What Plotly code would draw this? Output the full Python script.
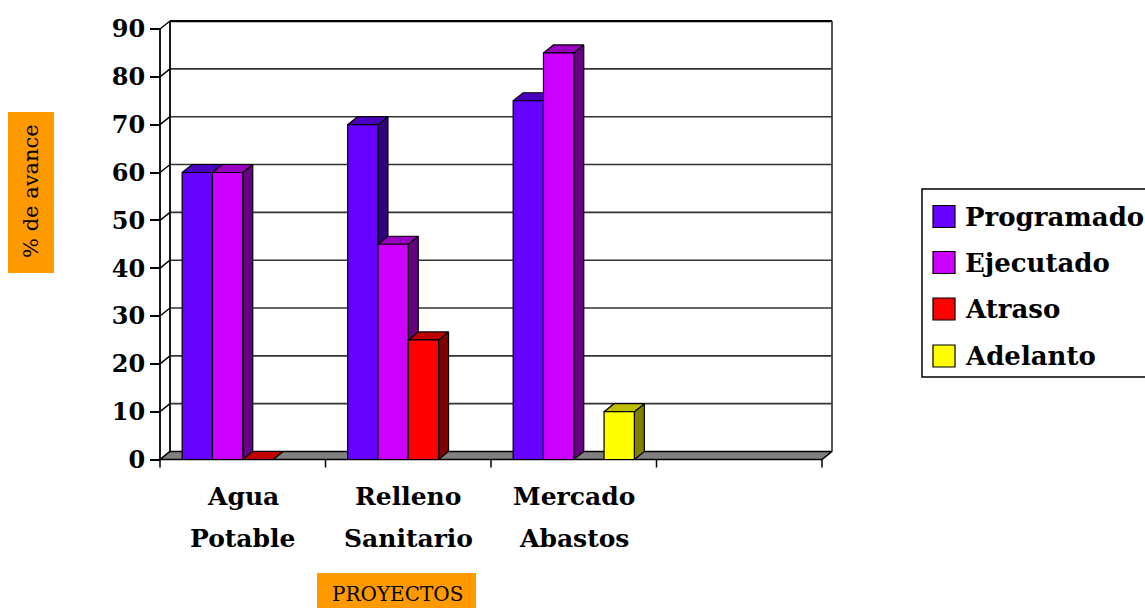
import plotly.graph_objects as go

# ---- data -------------------------------------------------------------
categories = ["Agua Potable", "Relleno Sanitario", "Mercado Abastos", ""]
category_lines = [["Agua", "Potable"], ["Relleno", "Sanitario"], ["Mercado", "Abastos"], ["", ""]]
series_names = ["Programado", "Ejecutado", "Atraso", "Adelanto"]
programado = [60, 70, 75, None]
ejecutado = [60, 45, 85, None]
atraso = [0, 25, None, None]
adelanto = [None, None, 10, None]
y_ticks = [0, 10, 20, 30, 40, 50, 60, 70, 80, 90]
y_title = "% de avance"
x_title = "PROYECTOS"

series_values = [programado, ejecutado, atraso, adelanto]

# face colours per series: (front, top, side)
series_colors = [
    ("#6600FF", "#4C00BF", "#330080"),
    ("#CC00FF", "#9900BF", "#660080"),
    ("#FF0000", "#BF0000", "#800000"),
    ("#FFFF00", "#BFBF00", "#808000"),
]

# ---- geometry ---------------------------------------------------------
W, H = 1145, 608
PLOT_L, PLOT_R, PLOT_T, PLOT_B = 130, 850, 10, 476
ORIGIN_X, ORIGIN_Y = 160.0, 459.5      # pixel of (category 0, value 0) on the front plane
PX_PER_CAT = 165.5
PX_PER_UNIT = 4.783

x_range = [(PLOT_L - ORIGIN_X) / PX_PER_CAT, (PLOT_R - ORIGIN_X) / PX_PER_CAT]
y_range = [(ORIGIN_Y - PLOT_B) / PX_PER_UNIT, (ORIGIN_Y - PLOT_T) / PX_PER_UNIT]

DX = 10 / PX_PER_CAT        # depth offset (x) of the 3D box
DY = 8 / PX_PER_UNIT        # depth offset (y) of the 3D box
N_CAT = len(categories)
N_SER = len(series_names)
BAR_W = 30.3 / PX_PER_CAT
GROUP_OFF = (1 - N_SER * BAR_W) / 2
Y_MAX = y_ticks[-1]


def paper_x(px):
    return (px - PLOT_L) / (PLOT_R - PLOT_L)


def paper_y(py):
    return (PLOT_B - py) / (PLOT_B - PLOT_T)


fig = go.Figure()


def poly(xs, ys, fill, lw=1.2, lc="black"):
    fig.add_trace(go.Scatter(
        x=list(xs) + [xs[0]], y=list(ys) + [ys[0]], mode="lines",
        fill="toself", fillcolor=fill, line=dict(color=lc, width=lw),
        hoverinfo="skip", showlegend=False))


def line(xs, ys, color="black", width=1.5):
    fig.add_trace(go.Scatter(
        x=xs, y=ys, mode="lines", line=dict(color=color, width=width),
        hoverinfo="skip", showlegend=False))


# back wall gridlines
for v in y_ticks[1:-1]:
    line([DX, N_CAT + DX], [v + DY, v + DY], color="#333333", width=1.6)
line([DX, N_CAT + DX], [Y_MAX + DY, Y_MAX + DY], color="black", width=2.2)
# back wall edges
line([DX, DX], [DY, Y_MAX + DY], color="black", width=1.8)
line([N_CAT + DX, N_CAT + DX], [DY, Y_MAX + DY], color="#444444", width=1.8)
# side wall diagonals from each tick
for v in y_ticks:
    line([0, DX], [v, v + DY], color="black", width=1.5)
# front value axis
line([0, 0], [0, Y_MAX], color="black", width=1.8)

# floor
poly([0, N_CAT, N_CAT + DX, DX], [0, 0, DY, DY], "#808080", lw=1.5)

# category tick marks
for c in range(N_CAT + 1):
    line([c, c], [0, -8 / PX_PER_UNIT], color="black", width=1.5)

# 3D bars, drawn left to right so nearer faces overlap correctly
for c in range(N_CAT):
    for s in range(N_SER):
        v = series_values[s][c]
        if v is None:
            continue
        front, top, side = series_colors[s]
        x0 = c + GROUP_OFF + s * BAR_W
        x1 = x0 + BAR_W
        poly([x1, x1 + DX, x1 + DX, x1], [0, DY, v + DY, v], side)
        poly([x0, x1, x1 + DX, x0 + DX], [v, v, v + DY, v + DY], top)
        if v > 0:
            poly([x0, x1, x1, x0], [0, 0, v, v], front)

# ---- text & decorations ----------------------------------------------
annotations = []
shapes = []
TICK_FONT = dict(family="DejaVu Serif", size=24, color="black", weight="bold")
CAT_FONT = dict(family="DejaVu Serif", size=25, color="black", weight="bold")

for c, (l1, l2) in enumerate(category_lines):
    if not l1:
        continue
    for txt, shift in ((l1, -37), (l2, -79)):
        annotations.append(dict(
            x=c + 0.5, y=0, xref="x", yref="y", text=txt, showarrow=False,
            xanchor="center", yanchor="middle", yshift=shift, font=CAT_FONT))

# axis title boxes
shapes.append(dict(type="rect", xref="paper", yref="paper",
                   x0=paper_x(8), x1=paper_x(54), y0=paper_y(273), y1=paper_y(112),
                   fillcolor="#FF9900", line=dict(width=0)))
annotations.append(dict(x=paper_x(31), y=paper_y(191), xref="paper", yref="paper",
                        text=y_title, textangle=-90, showarrow=False,
                        xanchor="center", yanchor="middle",
                        font=dict(family="DejaVu Serif", size=21, color="black")))
shapes.append(dict(type="rect", xref="paper", yref="paper",
                   x0=paper_x(317), x1=paper_x(476), y0=paper_y(612), y1=paper_y(573),
                   fillcolor="#FF9900", line=dict(width=0)))
annotations.append(dict(x=paper_x(397), y=paper_y(594), xref="paper", yref="paper",
                        text=x_title, showarrow=False, xanchor="center", yanchor="middle",
                        font=dict(family="DejaVu Serif", size=20, color="black")))

# legend
shapes.append(dict(type="rect", xref="paper", yref="paper",
                   x0=paper_x(922), x1=paper_x(1160), y0=paper_y(377), y1=paper_y(189),
                   fillcolor="white", line=dict(color="black", width=1.5)))
row_centers = [216.5, 262.5, 309, 356]
for name, (front, _, _), yc in zip(series_names, series_colors, row_centers):
    shapes.append(dict(type="rect", xref="paper", yref="paper",
                       x0=paper_x(933), x1=paper_x(955),
                       y0=paper_y(yc + 11), y1=paper_y(yc - 11),
                       fillcolor=front, line=dict(color="black", width=1.2)))
    annotations.append(dict(x=paper_x(963), y=paper_y(yc), xref="paper", yref="paper",
                            text=name, showarrow=False, xanchor="left", yanchor="middle",
                            font=dict(family="DejaVu Serif", size=26, color="black",
                                      weight="bold")))

fig.update_layout(
    template="none",
    width=W, height=H,
    margin=dict(l=PLOT_L, r=W - PLOT_R, t=PLOT_T, b=H - PLOT_B, pad=0),
    paper_bgcolor="white", plot_bgcolor="white",
    showlegend=False,
    xaxis=dict(range=x_range, visible=False, fixedrange=True),
    yaxis=dict(range=y_range, anchor="free", position=paper_x(ORIGIN_X),
               tickvals=y_ticks, ticktext=[str(t) for t in y_ticks],
               ticks="outside", ticklen=10, tickwidth=1.5, tickcolor="black",
               tickfont=TICK_FONT, showline=False, showgrid=False, zeroline=False,
               automargin=False, fixedrange=True),
    shapes=shapes,
    annotations=annotations,
)

fig.write_html("out.html")
